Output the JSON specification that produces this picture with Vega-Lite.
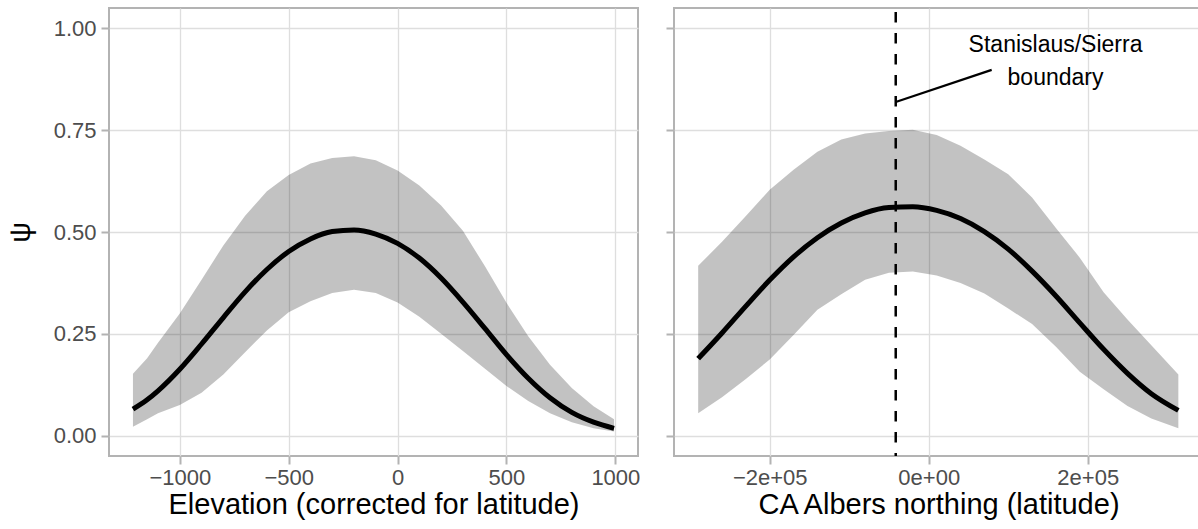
{
  "$schema": "https://vega.github.io/schema/vega-lite/v6.json",
  "padding": {"left": 5, "top": 5, "right": -5, "bottom": 0},
  "spacing": 23,
  "datasets": {
    "left": [
      {"x": -1215, "psi": 0.065, "lo": 0.022, "hi": 0.152},
      {"x": -1150, "psi": 0.088, "lo": 0.040, "hi": 0.190},
      {"x": -1100, "psi": 0.110, "lo": 0.055, "hi": 0.228},
      {"x": -1000, "psi": 0.163, "lo": 0.075, "hi": 0.300},
      {"x": -900, "psi": 0.225, "lo": 0.105, "hi": 0.383},
      {"x": -800, "psi": 0.290, "lo": 0.150, "hi": 0.467},
      {"x": -700, "psi": 0.353, "lo": 0.205, "hi": 0.540},
      {"x": -600, "psi": 0.408, "lo": 0.258, "hi": 0.600},
      {"x": -500, "psi": 0.452, "lo": 0.303, "hi": 0.640},
      {"x": -400, "psi": 0.483, "lo": 0.330, "hi": 0.668},
      {"x": -300, "psi": 0.501, "lo": 0.350, "hi": 0.682},
      {"x": -200, "psi": 0.505, "lo": 0.358, "hi": 0.686},
      {"x": -100, "psi": 0.495, "lo": 0.350, "hi": 0.676},
      {"x": 0, "psi": 0.472, "lo": 0.327, "hi": 0.651},
      {"x": 100, "psi": 0.436, "lo": 0.292, "hi": 0.614},
      {"x": 200, "psi": 0.387, "lo": 0.250, "hi": 0.565},
      {"x": 300, "psi": 0.328, "lo": 0.208, "hi": 0.503},
      {"x": 400, "psi": 0.264, "lo": 0.165, "hi": 0.417},
      {"x": 500, "psi": 0.199, "lo": 0.122, "hi": 0.326},
      {"x": 600, "psi": 0.141, "lo": 0.085, "hi": 0.244},
      {"x": 700, "psi": 0.093, "lo": 0.055, "hi": 0.174},
      {"x": 800, "psi": 0.057, "lo": 0.033, "hi": 0.117},
      {"x": 900, "psi": 0.033, "lo": 0.018, "hi": 0.072},
      {"x": 994, "psi": 0.018, "lo": 0.010, "hi": 0.040}
    ],
    "right": [
      {"x": -290000, "psi": 0.189, "lo": 0.055, "hi": 0.417},
      {"x": -260000, "psi": 0.252, "lo": 0.094, "hi": 0.476},
      {"x": -230000, "psi": 0.318, "lo": 0.139, "hi": 0.539},
      {"x": -200000, "psi": 0.382, "lo": 0.187, "hi": 0.604},
      {"x": -170000, "psi": 0.439, "lo": 0.247, "hi": 0.653},
      {"x": -140000, "psi": 0.486, "lo": 0.309, "hi": 0.697},
      {"x": -110000, "psi": 0.522, "lo": 0.347, "hi": 0.727},
      {"x": -80000, "psi": 0.547, "lo": 0.383, "hi": 0.742},
      {"x": -50000, "psi": 0.560, "lo": 0.400, "hi": 0.748},
      {"x": -20000, "psi": 0.562, "lo": 0.403, "hi": 0.751},
      {"x": 10000, "psi": 0.553, "lo": 0.393, "hi": 0.738},
      {"x": 40000, "psi": 0.533, "lo": 0.375, "hi": 0.712},
      {"x": 70000, "psi": 0.501, "lo": 0.349, "hi": 0.678},
      {"x": 100000, "psi": 0.458, "lo": 0.312, "hi": 0.642},
      {"x": 130000, "psi": 0.404, "lo": 0.274, "hi": 0.585},
      {"x": 160000, "psi": 0.343, "lo": 0.218, "hi": 0.510},
      {"x": 190000, "psi": 0.277, "lo": 0.157, "hi": 0.437},
      {"x": 220000, "psi": 0.212, "lo": 0.114, "hi": 0.352},
      {"x": 250000, "psi": 0.153, "lo": 0.073, "hi": 0.285},
      {"x": 280000, "psi": 0.103, "lo": 0.042, "hi": 0.222},
      {"x": 314000, "psi": 0.062, "lo": 0.018, "hi": 0.150}
    ],
    "vline": [{"x": -41500}],
    "segment": [{"x": -41500, "y": 0.819, "x2": 79200, "y2": 0.898}],
    "label": [{"x": 159500, "y": 0.941, "label": "Stanislaus/Sierra\nboundary"}]
  },
  "config": {
    "font": "Liberation Sans",
    "view": {"stroke": "#b3b3b3", "strokeWidth": 2},
    "axis": {
      "domain": false,
      "grid": true,
      "gridColor": "#dedede",
      "gridWidth": 1.3,
      "tickColor": "#b3b3b3",
      "tickWidth": 2,
      "tickSize": 8,
      "labelColor": "#4d4d4d",
      "labelFontSize": 22,
      "labelFont": "Liberation Sans",
      "labelPadding": 3,
      "labelFlush": false,
      "labelOverlap": false,
      "titleColor": "#000000",
      "titleFontSize": 29,
      "titleFont": "Liberation Sans",
      "titleFontWeight": "normal"
    }
  },
  "hconcat": [
    {
      "width": 529,
      "height": 448,
      "data": {"name": "left"},
      "layer": [
        {
          "mark": {"type": "area", "color": "#000000", "opacity": 0.24},
          "encoding": {
            "x": {"field": "x", "type": "quantitative",
                  "scale": {"domain": [-1325, 1104], "nice": false, "zero": false},
                  "axis": {"values": [-1000, -500, 0, 500, 1000], "format": "d", "title": "Elevation (corrected for latitude)", "titlePadding": 2}},
            "y": {"field": "lo", "type": "quantitative",
                  "scale": {"domain": [-0.05, 1.05], "nice": false, "zero": false},
                  "axis": {"values": [0, 0.25, 0.5, 0.75, 1], "format": ".2f", "title": "ψ", "titlePadding": 18, "labelPadding": 5}},
            "y2": {"field": "hi"}
          }
        },
        {
          "mark": {"type": "line", "color": "#000000", "strokeWidth": 5, "strokeCap": "butt", "interpolate": "monotone"},
          "encoding": {
            "x": {"field": "x", "type": "quantitative"},
            "y": {"field": "psi", "type": "quantitative"}
          }
        }
      ]
    },
    {
      "width": 529,
      "height": 448,
      "layer": [
        {
          "data": {"name": "right"},
          "mark": {"type": "area", "color": "#000000", "opacity": 0.24},
          "encoding": {
            "x": {"field": "x", "type": "quantitative",
                  "scale": {"domain": [-320400, 345000], "nice": false, "zero": false},
                  "axis": {"values": [-200000, 0, 200000], "labelExpr": "datum.value < 0 ? '−2e+05' : (datum.value > 0 ? '2e+05' : '0e+00')", "title": "CA Albers northing (latitude)", "titlePadding": 2}},
            "y": {"field": "lo", "type": "quantitative",
                  "scale": {"domain": [-0.05, 1.05], "nice": false, "zero": false},
                  "axis": {"values": [0, 0.25, 0.5, 0.75, 1], "labels": false, "title": null}},
            "y2": {"field": "hi"}
          }
        },
        {
          "data": {"name": "right"},
          "mark": {"type": "line", "color": "#000000", "strokeWidth": 5, "strokeCap": "butt", "interpolate": "monotone"},
          "encoding": {
            "x": {"field": "x", "type": "quantitative"},
            "y": {"field": "psi", "type": "quantitative"}
          }
        },
        {
          "data": {"name": "vline"},
          "mark": {"type": "rule", "color": "#000000", "strokeWidth": 2.5, "strokeDash": [10.5, 10.5], "strokeDashOffset": 17},
          "encoding": {
            "x": {"field": "x", "type": "quantitative"}
          }
        },
        {
          "data": {"name": "segment"},
          "mark": {"type": "rule", "color": "#000000", "strokeWidth": 2.2},
          "encoding": {
            "x": {"field": "x", "type": "quantitative"},
            "y": {"field": "y", "type": "quantitative"},
            "x2": {"field": "x2"},
            "y2": {"field": "y2"}
          }
        },
        {
          "data": {"name": "label"},
          "mark": {"type": "text", "color": "#000000", "fontSize": 23, "align": "center", "baseline": "alphabetic", "lineBreak": "\n", "lineHeight": 33},
          "encoding": {
            "x": {"field": "x", "type": "quantitative"},
            "y": {"field": "y", "type": "quantitative"},
            "text": {"field": "label"}
          }
        }
      ]
    }
  ]
}
